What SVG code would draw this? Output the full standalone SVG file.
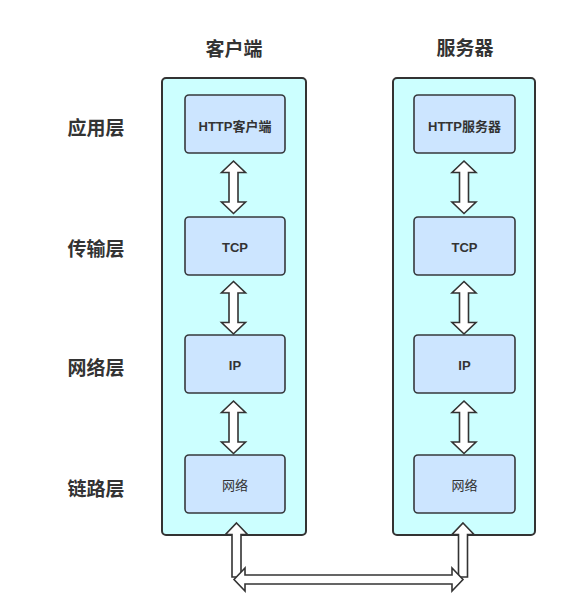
<svg xmlns="http://www.w3.org/2000/svg" xmlns:xlink="http://www.w3.org/1999/xlink" width="570" height="614" viewBox="0 0 570 614">
<style>
.container{fill:#ccffff;stroke:#333333;stroke-width:2}
.box{fill:#cce5ff;stroke:#36393d;stroke-width:1.6}
.arr{fill:#ffffff;stroke:#333333;stroke-width:1.6;stroke-linejoin:miter}
text{font-family:"Liberation Sans","Noto Sans CJK SC",sans-serif;fill:#333333;text-anchor:middle;dominant-baseline:central}
.head{font-size:19px;font-weight:bold}
.lbl{font-size:13px;font-weight:bold}
.lbln{font-size:13px}
</style>
<defs>
<path id="dbl" d="M0,0 L12,11.5 L4.5,11.5 L4.5,41 L12,41 L0,52.5 L-12,41 L-4.5,41 L-4.5,11.5 L-12,11.5 Z"/>
</defs>
<rect width="570" height="614" fill="#ffffff"/>
<g id="layer-labels">
<text class="head" x="96" y="128">应用层</text>
<text class="head" x="96" y="249">传输层</text>
<text class="head" x="96" y="368">网络层</text>
<text class="head" x="96" y="489">链路层</text>
</g>
<g id="client">
<text class="head" x="234" y="49">客户端</text>
<rect class="container" x="162" y="78" width="144" height="457" rx="4"/>
</g>
<g id="server">
<text class="head" x="465" y="48">服务器</text>
<rect class="container" x="393" y="78" width="142" height="457" rx="4"/>
</g>
<g id="c-http"><rect class="box" x="185" y="95" width="100" height="58" rx="4"/><text class="lbl" x="235" y="126">HTTP客户端</text></g>
<g id="c-tcp"><rect class="box" x="185" y="217" width="100" height="58" rx="4"/><text class="lbl" x="235" y="247">TCP</text></g>
<g id="c-ip"><rect class="box" x="185" y="335" width="100" height="58" rx="4"/><text class="lbl" x="235" y="365">IP</text></g>
<g id="c-net"><rect class="box" x="185" y="455" width="100" height="58" rx="4"/><text class="lbln" x="235" y="485">网络</text></g>
<g id="s-http"><rect class="box" x="414" y="95" width="101" height="58" rx="4"/><text class="lbl" x="464.5" y="126">HTTP服务器</text></g>
<g id="s-tcp"><rect class="box" x="414" y="217" width="101" height="58" rx="4"/><text class="lbl" x="464.5" y="247">TCP</text></g>
<g id="s-ip"><rect class="box" x="414" y="335" width="101" height="58" rx="4"/><text class="lbl" x="464.5" y="365">IP</text></g>
<g id="s-net"><rect class="box" x="414" y="455" width="101" height="58" rx="4"/><text class="lbln" x="464.5" y="485">网络</text></g>
<g id="connectors">
<use xlink:href="#dbl" class="arr" transform="translate(233.5,161)"/>
<use xlink:href="#dbl" class="arr" transform="translate(233.5,281.5)"/>
<use xlink:href="#dbl" class="arr" transform="translate(233.5,401)"/>
<use xlink:href="#dbl" class="arr" transform="translate(464,161)"/>
<use xlink:href="#dbl" class="arr" transform="translate(464,281.5)"/>
<use xlink:href="#dbl" class="arr" transform="translate(464,401)"/>
<path class="arr" d="M236.5,523 L247.5,534.5 L241,534.5 L241,577 L232,577 L232,534.5 L225.5,534.5 Z"/>
<path class="arr" d="M463,523 L474,534.5 L467.5,534.5 L467.5,577 L458.5,577 L458.5,534.5 L452,534.5 Z"/>
<path class="arr" d="M234,579.5 L245,568 L245,575 L452,575 L452,568 L463,579.5 L452,591 L452,584 L245,584 L245,591 Z"/>
</g>
</svg>
